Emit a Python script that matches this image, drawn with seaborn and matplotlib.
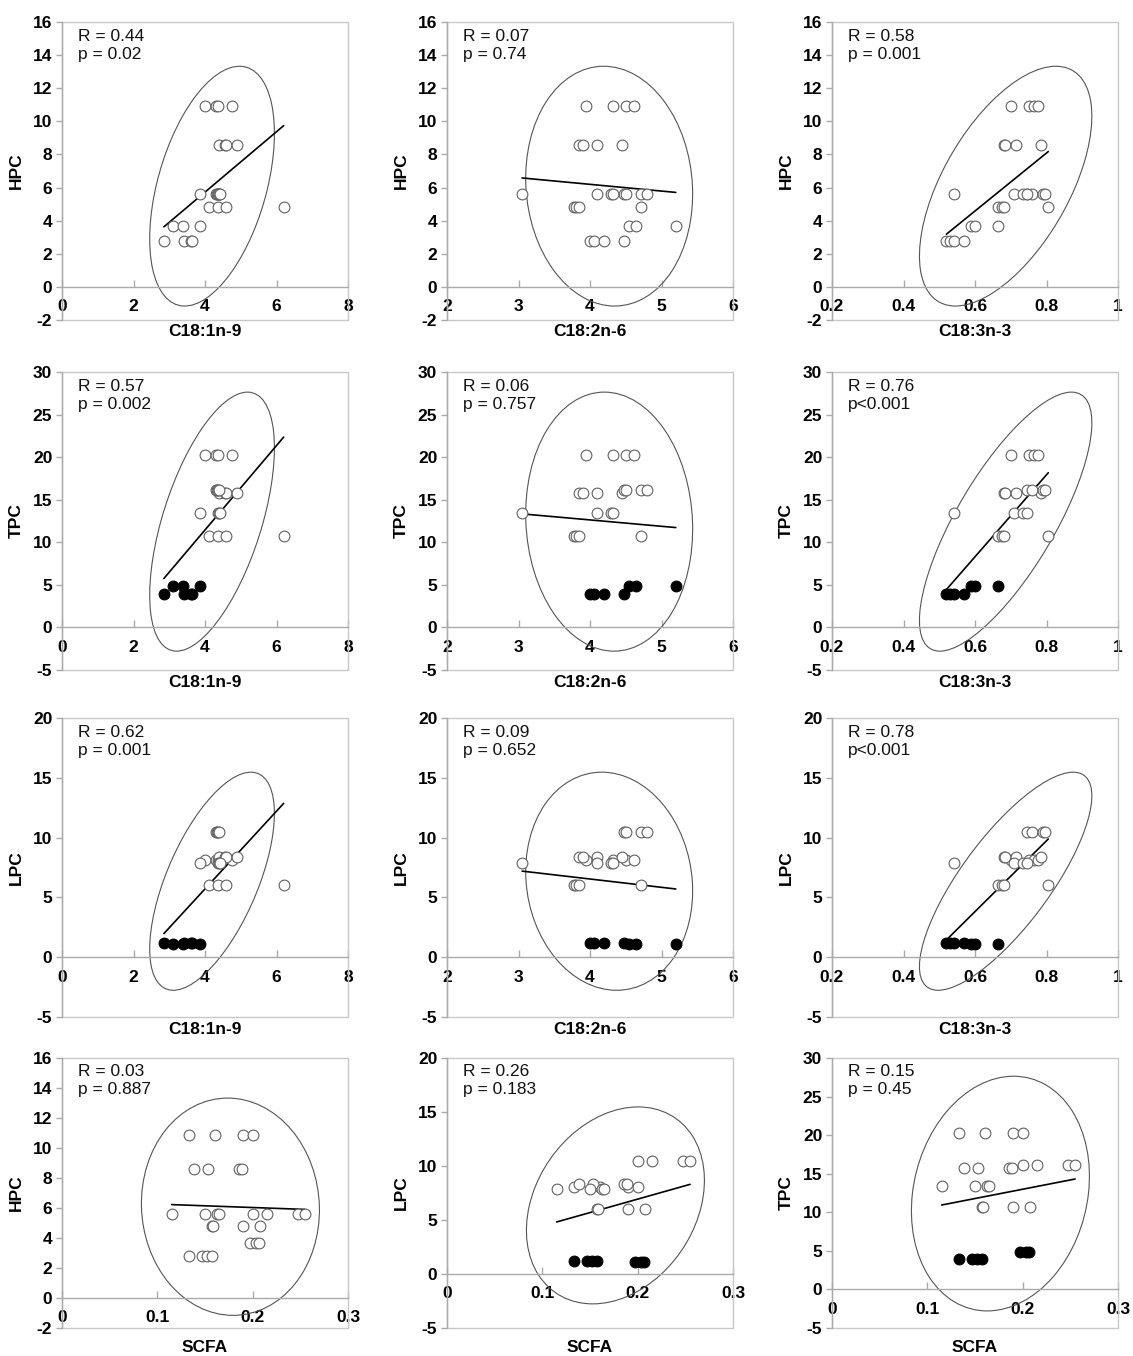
import numpy as np
import matplotlib
matplotlib.use('Agg')
import matplotlib.pyplot as plt
from matplotlib.patches import Ellipse, Rectangle
import seaborn as sns

# responses are constant within each of the 7 sample groups
group_size = [4, 4, 4, 4, 4, 3, 4]
hpc_level = [10.9, 8.6, 5.6, 5.6, 4.8, 3.7, 2.8]
tpc_level = [20.3, 15.8, 16.1, 13.4, 10.7, 4.9, 3.9]
lpc_level = [8.1, 8.35, 10.5, 7.9, 6.0, 1.1, 1.2]
# groups drawn as filled dots in the TPC / LPC panels
low_group = [False, False, False, False, False, True, True]

# fatty acid values per sample, listed group by group
c181 = [4.0, 4.3, 4.35, 4.75,
        4.4, 4.55, 4.6, 4.9,
        4.3, 4.33, 4.37, 4.4,
        3.85, 4.35, 4.38, 4.42,
        4.1, 4.35, 4.6, 6.2,
        3.1, 3.38, 3.85,
        2.85, 3.4, 3.6, 3.65]
c182 = [3.95, 4.32, 4.5, 4.62,
        3.85, 3.9, 4.1, 4.45,
        4.48, 4.5, 4.72, 4.8,
        3.05, 4.1, 4.3, 4.32,
        3.78, 3.8, 3.85, 4.72,
        4.55, 4.65, 5.2,
        4.0, 4.05, 4.2, 4.48]
c183 = [0.70, 0.75, 0.765, 0.775,
        0.68, 0.685, 0.715, 0.785,
        0.745, 0.76, 0.79, 0.795,
        0.54, 0.71, 0.735, 0.745,
        0.665, 0.675, 0.68, 0.805,
        0.59, 0.60, 0.665,
        0.52, 0.53, 0.54, 0.57]
scfa = [0.133, 0.160, 0.190, 0.200,
        0.138, 0.153, 0.186, 0.189,
        0.200, 0.215, 0.248, 0.255,
        0.115, 0.150, 0.163, 0.165,
        0.157, 0.158, 0.190, 0.208,
        0.197, 0.204, 0.207,
        0.133, 0.147, 0.152, 0.157]

stats = ["R = 0.44\np = 0.02", "R = 0.07\np = 0.74", "R = 0.58\np = 0.001",
         "R = 0.57\np = 0.002", "R = 0.06\np = 0.757", "R = 0.76\np<0.001",
         "R = 0.62\np = 0.001", "R = 0.09\np = 0.652", "R = 0.78\np<0.001",
         "R = 0.03\np = 0.887", "R = 0.26\np = 0.183", "R = 0.15\np = 0.45"]

hpc = np.repeat(hpc_level, group_size)
tpc = np.repeat(tpc_level, group_size)
lpc = np.repeat(lpc_level, group_size)
filled = np.repeat(low_group, group_size)

xvars = {'C18:1n-9': (np.array(c181), (0, 8), 2),
         'C18:2n-6': (np.array(c182), (2, 6), 1),
         'C18:3n-3': (np.array(c183), (0.2, 1), 0.2),
         'SCFA': (np.array(scfa), (0, 0.3), 0.1)}
yvars = {'HPC': (hpc, (-2, 16), 2),
         'TPC': (tpc, (-5, 30), 5),
         'LPC': (lpc, (-5, 20), 5)}

layout = [('C18:1n-9', 'HPC'), ('C18:2n-6', 'HPC'), ('C18:3n-3', 'HPC'),
          ('C18:1n-9', 'TPC'), ('C18:2n-6', 'TPC'), ('C18:3n-3', 'TPC'),
          ('C18:1n-9', 'LPC'), ('C18:2n-6', 'LPC'), ('C18:3n-3', 'LPC'),
          ('SCFA', 'HPC'), ('SCFA', 'LPC'), ('SCFA', 'TPC')]

sns.set_theme(style='white')
plt.rcParams['font.family'] = ['Liberation Sans', 'DejaVu Sans']

W, H = 1133, 1356
fig = plt.figure(figsize=(W / 100, H / 100), dpi=100)
lefts = [62, 447, 832]
tops = [22, 372, 718, 1058]
heights = [298, 298, 299, 270]
label_gap = [12, 13, 12, 20]   # px between frame bottom and x label centre
aw = 286


def pred_ellipse(ax, x, y):
    # 95% prediction ellipse, F(2, n-2) quantile in closed form
    n = len(x)
    d2 = n - 2
    fq = d2 / 2 * (0.05 ** (-2 / d2) - 1)
    k = np.sqrt(2 * (n - 1) * (n + 1) / (n * d2) * fq)
    vals, vecs = np.linalg.eigh(np.cov(x, y))
    angle = np.degrees(np.arctan2(vecs[1, 1], vecs[0, 1]))
    ell = Ellipse((x.mean(), y.mean()), 2 * k * np.sqrt(vals[1]), 2 * k * np.sqrt(vals[0]),
                  angle=angle, fill=False, ec='#555555', lw=0.8, zorder=2)
    ax.add_patch(ell)


for i, (xn, yn) in enumerate(layout):
    r, c = divmod(i, 3)
    h = heights[r]
    ax = fig.add_axes([lefts[c] / W, 1 - (tops[r] + h) / H, aw / W, h / H])
    x, xlim, xstep = xvars[xn]
    y, ylim, ystep = yvars[yn]

    pred_ellipse(ax, x, y)
    sns.regplot(x=x, y=y, ax=ax, scatter=False, ci=None, truncate=True,
                line_kws=dict(color='black', lw=1.2, zorder=3))
    if yn == 'HPC':
        op = np.ones(len(x), bool)
    else:
        op = ~filled
    sns.scatterplot(x=x[op], y=y[op], ax=ax, s=60, color='white',
                    edgecolor='#606060', linewidth=0.8, zorder=4)
    if yn != 'HPC':
        sns.scatterplot(x=x[~op], y=y[~op], ax=ax, s=60, color='black',
                        edgecolor='black', linewidth=0.8, zorder=5)

    ax.set_xlim(xlim)
    ax.set_ylim(ylim)
    xt = np.round(np.arange(xlim[0], xlim[1] + xstep / 2, xstep), 3)
    yt = np.arange(ylim[0], ylim[1] + ystep / 2, ystep)
    ax.set_xticks(xt)
    ax.set_xticklabels([f'{v:g}' for v in xt])
    ax.set_yticks(yt)
    ax.set_yticklabels([f'{v:g}' for v in yt])

    for s in ['top', 'right']:
        ax.spines[s].set_visible(False)
    ax.spines['bottom'].set_position(('data', 0))
    for s in ['left', 'bottom']:
        ax.spines[s].set_color('#aaaaaa')
        ax.spines[s].set_linewidth(1.0)
    ax.add_patch(Rectangle((0, 0), 1, 1, transform=ax.transAxes, fill=False,
                           ec='#c8c8c8', lw=1.0, clip_on=False, zorder=1))
    ax.tick_params(axis='y', direction='out', length=4, width=1, color='#aaaaaa',
                   pad=3, labelsize=12.5, labelcolor='black', left=True)
    ax.tick_params(axis='x', direction='in', length=5, width=1, color='#aaaaaa',
                   pad=9, labelsize=12.5, labelcolor='black', bottom=True)
    plt.setp(ax.get_xticklabels() + ax.get_yticklabels(), fontweight='bold')

    ax.set_xlabel(xn, fontsize=12.5, fontweight='bold', color='black')
    ax.xaxis.set_label_coords(0.5, -label_gap[r] / h)
    ax.xaxis.label.set_va('center')
    ax.set_ylabel(yn, fontsize=12.5, fontweight='bold', color='black')
    ax.yaxis.set_label_coords(-0.16, 0.5)
    ax.yaxis.label.set_va('center')

    ax.text(0.055, 0.978, stats[i], transform=ax.transAxes, ha='left', va='top',
            fontsize=12.5, linespacing=1.25, color='#111111')

fig.savefig('out.png', dpi=100)
